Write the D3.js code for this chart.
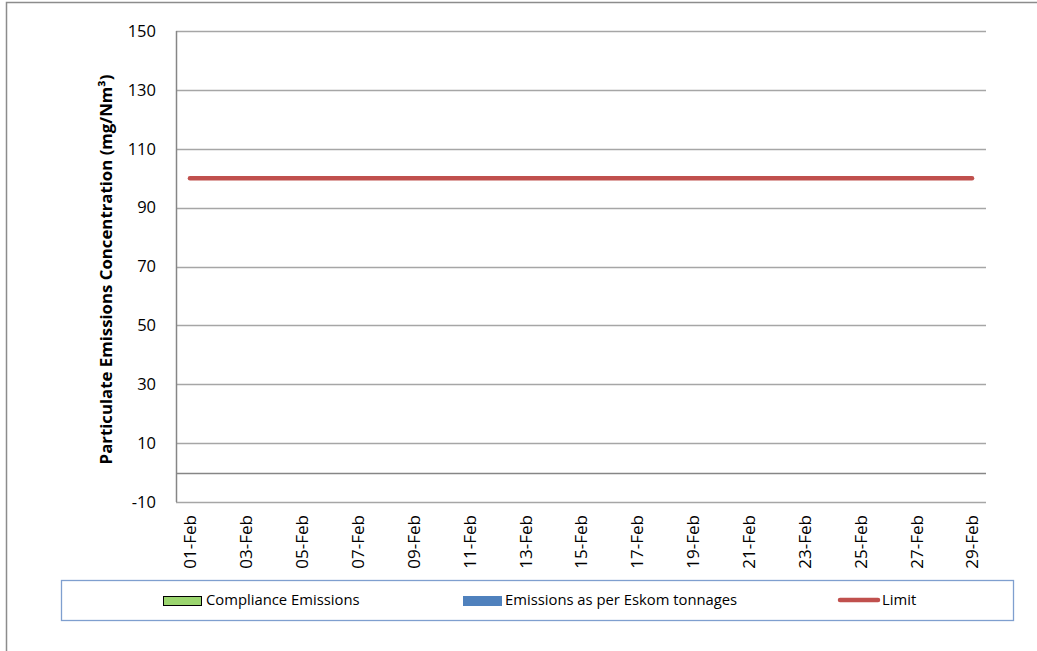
<!DOCTYPE html>
<html>
<head>
<meta charset="utf-8">
<script src="https://cdn.jsdelivr.net/npm/d3@7"></script>
<style>
  html, body { margin: 0; padding: 0; background: #fff; }
  svg { display: block; }
  text { font-family: "Open Sans", "Noto Sans", sans-serif; fill: #000; }
</style>
</head>
<body>
<svg id="chart" width="1037" height="651"></svg>
<script>
// Daily categories for February
const days = ["01-Feb","02-Feb","03-Feb","04-Feb","05-Feb","06-Feb","07-Feb","08-Feb","09-Feb","10-Feb",
              "11-Feb","12-Feb","13-Feb","14-Feb","15-Feb","16-Feb","17-Feb","18-Feb","19-Feb","20-Feb",
              "21-Feb","22-Feb","23-Feb","24-Feb","25-Feb","26-Feb","27-Feb","28-Feb","29-Feb"];
// Series values (mg/Nm³)
const complianceEmissions = [0,0,0,0,0,0,0,0,0,0,0,0,0,0,0,0,0,0,0,0,0,0,0,0,0,0,0,0,0];
const eskomEmissions      = [0,0,0,0,0,0,0,0,0,0,0,0,0,0,0,0,0,0,0,0,0,0,0,0,0,0,0,0,0];
const limitValues         = [100,100,100,100,100,100,100,100,100,100,100,100,100,100,100,100,100,100,100,100,100,100,100,100,100,100,100,100,100];
// Axis ticks
const yTicks = [150, 130, 110, 90, 70, 50, 30, 10, -10];
const xTickLabels = ["01-Feb","03-Feb","05-Feb","07-Feb","09-Feb","11-Feb","13-Feb","15-Feb","17-Feb","19-Feb","21-Feb","23-Feb","25-Feb","27-Feb","29-Feb"];
const seriesNames = ["Compliance Emissions", "Emissions as per Eskom tonnages", "Limit"];

const svg = d3.select("#chart");

// Outer chart frame
svg.append("rect")
  .attr("x", 6.5).attr("y", 2.5).attr("width", 1100).attr("height", 700)
  .attr("fill", "none").attr("stroke", "#8c8c8c").attr("stroke-width", 1.5);

const plot = { left: 176, top: 31, right: 986, bottom: 502 };

const x = d3.scaleBand().domain(days).range([plot.left, plot.right]).paddingInner(0.3).paddingOuter(0.15);
const xc = d3.scalePoint().domain(days).range([plot.left, plot.right]).padding(0.5);
const y = d3.scaleLinear().domain([-10, 150]).range([plot.bottom, plot.top]);

// Horizontal gridlines
svg.append("g")
  .selectAll("line").data(yTicks).join("line")
  .attr("x1", plot.left).attr("x2", plot.right)
  .attr("y1", d => Math.round(y(d)) + 0.5).attr("y2", d => Math.round(y(d)) + 0.5)
  .attr("stroke", "#a6a6a6").attr("stroke-width", 1.3);

// Y axis labels (plain hyphen for negatives)
const yAxis = d3.axisLeft(y).tickValues(yTicks).tickFormat(d => String(d)).tickSize(0).tickPadding(20);
const gy = svg.append("g").attr("transform", `translate(${plot.left},0)`).call(yAxis);
gy.select(".domain").remove();
gy.selectAll("text")
  .style("font-family", '"Open Sans", sans-serif').style("font-size", "16.5px").attr("fill", "#000");

// Vertical axis line
svg.append("line")
  .attr("x1", plot.left + 0.5).attr("x2", plot.left + 0.5)
  .attr("y1", plot.top).attr("y2", plot.bottom)
  .attr("stroke", "#868686").attr("stroke-width", 1.5);

// Category axis at zero
svg.append("line")
  .attr("x1", plot.left).attr("x2", plot.right)
  .attr("y1", Math.round(y(0)) + 0.5).attr("y2", Math.round(y(0)) + 0.5)
  .attr("stroke", "#868686").attr("stroke-width", 1.5);

// Compliance emissions bars
svg.append("g").selectAll("rect").data(complianceEmissions).join("rect")
  .attr("x", (d, i) => x(days[i]))
  .attr("width", x.bandwidth() / 2)
  .attr("y", d => y(Math.max(0, d)))
  .attr("height", d => Math.abs(y(d) - y(0)))
  .attr("fill", "#9bd56f").attr("stroke", "#000").attr("stroke-width", d => d ? 1 : 0);

// Eskom tonnage-based bars
svg.append("g").selectAll("rect").data(eskomEmissions).join("rect")
  .attr("x", (d, i) => x(days[i]) + x.bandwidth() / 2)
  .attr("width", x.bandwidth() / 2)
  .attr("y", d => y(Math.max(0, d)))
  .attr("height", d => Math.abs(y(d) - y(0)))
  .attr("fill", "#4f81bd");

// Limit line
const line = d3.line().x((d, i) => xc(days[i])).y(d => y(d));
svg.append("path")
  .datum(limitValues)
  .attr("d", line)
  .attr("fill", "none").attr("stroke", "#c0504d").attr("stroke-width", 4.5)
  .attr("stroke-linecap", "round");

// X axis labels (every other day)
const xAxis = d3.axisBottom(xc).tickValues(xTickLabels).tickSize(0).tickPadding(0);
const gx = svg.append("g").attr("transform", `translate(0,${plot.bottom})`).call(xAxis);
gx.select(".domain").remove();
gx.selectAll("text")
  .style("font-family", '"Open Sans", sans-serif').style("font-size", "17px").attr("fill", "#000")
  .attr("transform", "rotate(-90)")
  .attr("text-anchor", "end")
  .attr("dy", "0.35em")
  .attr("x", -13).attr("y", 0);

// Y axis title
svg.append("text")
  .attr("transform", `translate(112,${(74 + 465) / 2}) rotate(-90)`)
  .attr("text-anchor", "middle")
  .style("font-size", "16.8px").style("font-weight", "bold")
  .text("Particulate Emissions Concentration (mg/Nm³)");

// Legend
const legend = svg.append("g");
legend.append("rect")
  .attr("x", 61.5).attr("y", 580.5).attr("width", 952).attr("height", 40)
  .attr("fill", "#fff").attr("stroke", "#7f9fcf").attr("stroke-width", 1.3);

const legendY = 600;
legend.append("rect").attr("x", 163.5).attr("y", 596.5).attr("width", 38).attr("height", 9)
  .attr("fill", "#9bd56f").attr("stroke", "#000").attr("stroke-width", 1);
legend.append("text").attr("x", 206).attr("y", legendY).attr("dy", "0.35em")
  .style("font-size", "14.8px").text(seriesNames[0]);

legend.append("rect").attr("x", 463).attr("y", 596).attr("width", 39).attr("height", 10)
  .attr("fill", "#4f81bd");
legend.append("text").attr("x", 505).attr("y", legendY).attr("dy", "0.35em")
  .style("font-size", "14.8px").text(seriesNames[1]);

legend.append("line").attr("x1", 840).attr("x2", 878).attr("y1", legendY).attr("y2", legendY)
  .attr("stroke", "#c0504d").attr("stroke-width", 4.5).attr("stroke-linecap", "round");
legend.append("text").attr("x", 882).attr("y", legendY).attr("dy", "0.35em")
  .style("font-size", "14.8px").text(seriesNames[2]);
</script>
</body>
</html>
